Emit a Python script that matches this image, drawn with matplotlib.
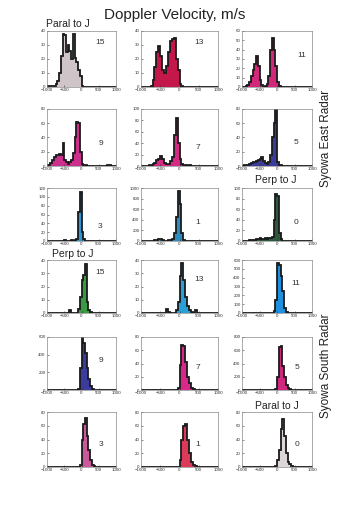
"""
Doppler velocity histograms, Syowa East / South radars
bins of 50 m/s from -1000 to 1000
sortie : out.png
"""

import numpy as np
import matplotlib.pyplot as plt

plt.rcParams["font.family"] = ["Liberation Sans", "DejaVu Sans"]

edges = np.arange(-1000, 1001, 50)


def counts(d):
    # d : {bin index: count}, index 0 = bin -1000..-950
    c = np.zeros(40)
    for k, v in d.items():
        c[k] = v
    return c


# --- Syowa East Radar ---
east_15 = counts({0: 1, 1: 1, 2: 1, 3: 1, 4: 1, 5: 2, 6: 4, 7: 10, 8: 22, 9: 38, 10: 37, 11: 25,
                  12: 30, 13: 26, 14: 20, 15: 38, 16: 21, 17: 18, 18: 12, 19: 8, 20: 1})
east_13 = counts({5: 1, 6: 5, 7: 14, 8: 25, 9: 29, 10: 22, 11: 12, 12: 10, 13: 15, 14: 25,
                  15: 33, 16: 34, 17: 35, 18: 20, 19: 12, 20: 2, 21: 1})
east_11 = counts({2: 1, 3: 2, 4: 5, 5: 12, 6: 18, 7: 25, 8: 33, 9: 22, 10: 8, 11: 2, 13: 1,
                  14: 3, 15: 12, 16: 40, 17: 53, 18: 40, 19: 22, 20: 5, 21: 1})
east_9 = counts({0: 1, 1: 2, 2: 4, 3: 8, 4: 12, 5: 15, 6: 16, 7: 17, 8: 15, 9: 32, 10: 8, 11: 5,
                 12: 3, 13: 5, 14: 8, 15: 18, 16: 40, 17: 62, 18: 60, 19: 20, 20: 3, 21: 1,
                 22: 1, 35: 2, 36: 1})
east_7 = counts({4: 1, 5: 2, 6: 3, 7: 6, 8: 10, 9: 13, 10: 17, 11: 12, 12: 6, 13: 4, 14: 4,
                 15: 8, 16: 15, 17: 55, 18: 85, 19: 40, 20: 12, 21: 3, 22: 1, 23: 1, 25: 1})
east_5 = counts({1: 1, 2: 1, 3: 2, 4: 3, 5: 4, 6: 5, 7: 6, 8: 7, 9: 8, 10: 10, 11: 12, 12: 7,
                 13: 4, 14: 3, 15: 5, 16: 15, 17: 40, 18: 60, 19: 82, 20: 5, 21: 2, 22: 1})
east_3 = counts({4: 1, 6: 1, 8: 1, 10: 2, 12: 1, 14: 2, 16: 3, 17: 5, 18: 65, 19: 110,
                 20: 20, 21: 5, 22: 1})
east_1 = counts({7: 10, 8: 20, 9: 40, 10: 30, 11: 15, 12: 5, 13: 8, 14: 10, 15: 15, 16: 30,
                 17: 150, 18: 450, 19: 950, 20: 700, 21: 150, 22: 20, 23: 5})
east_0 = counts({4: 1, 5: 1, 6: 2, 7: 2, 8: 3, 9: 3, 10: 5, 11: 3, 12: 4, 13: 5, 14: 4, 15: 5,
                 16: 6, 17: 8, 18: 40, 19: 88, 20: 85, 21: 15, 22: 3})

# --- Syowa South Radar ---
south_15 = counts({13: 2, 18: 3, 19: 12, 20: 25, 21: 29, 22: 37, 23: 8, 24: 2, 25: 1})
south_13 = counts({13: 3, 14: 1, 18: 2, 19: 8, 20: 28, 21: 38, 22: 25, 23: 12, 24: 5, 25: 2,
                   26: 1, 28: 2})
south_11 = counts({17: 3, 18: 20, 19: 150, 20: 570, 21: 540, 22: 420, 23: 250, 24: 60,
                   25: 15, 26: 5})
south_9 = counts({18: 10, 19: 250, 20: 600, 21: 530, 22: 420, 23: 250, 24: 120, 25: 50,
                  26: 15, 27: 5})
south_7 = counts({19: 3, 20: 38, 21: 68, 22: 67, 23: 42, 24: 20, 25: 10, 26: 3, 27: 1})
south_5 = counts({19: 10, 20: 200, 21: 650, 22: 660, 23: 360, 24: 200, 25: 80, 26: 25, 27: 8})
south_3 = counts({19: 3, 20: 40, 21: 62, 22: 72, 23: 45, 24: 25, 25: 10, 26: 3, 27: 1})
south_1 = counts({20: 10, 21: 40, 22: 60, 23: 63, 24: 40, 25: 20, 26: 8, 27: 3, 28: 1})
south_0 = counts({19: 2, 20: 10, 21: 25, 22: 55, 23: 70, 24: 45, 25: 20, 26: 8, 27: 5, 28: 2})

panel_data = [east_15, east_13, east_11, east_9, east_7, east_5, east_3, east_1, east_0,
              south_15, south_13, south_11, south_9, south_7, south_5, south_3, south_1, south_0]
panel_labels = ["15", "13", "11", "9", "7", "5", "3", "1", "0",
                "15", "13", "11", "9", "7", "5", "3", "1", "0"]
panel_ymax = [40, 40, 60, 80, 100, 80, 120, 1000, 100,
              40, 40, 600, 600, 80, 800, 80, 80, 80]
panel_ystep = [10, 10, 10, 20, 20, 20, 20, 200, 20,
               10, 10, 100, 200, 20, 200, 20, 20, 20]
panel_colors = ["#cfc5c8", "#c4184a", "#d2287a", "#cc2f8c", "#d42a86", "#3a3c9c",
                "#2a98d6", "#2a8cc0", "#2c5a3e",
                "#3a9a44", "#2aa0d8", "#1e90e0", "#3c3c9e", "#d8288a", "#d0277f",
                "#c85a9c", "#dc3a5a", "#dcd6d8"]
# position du numéro dans chaque panneau (coord. axes)
label_pos = [(0.77, 0.79), (0.76, 0.79), (0.85, 0.57), (0.78, 0.40), (0.74, 0.33), (0.77, 0.42),
             (0.77, 0.27), (0.74, 0.34), (0.77, 0.34), (0.77, 0.77), (0.76, 0.64), (0.77, 0.55),
             (0.78, 0.55), (0.74, 0.42), (0.78, 0.42), (0.78, 0.40), (0.74, 0.40), (0.78, 0.40)]

W, H = 349, 515
fig = plt.figure(figsize=(W / 100, H / 100), dpi=100, facecolor="white")

col_left = [47, 141, 242]
col_w = [69, 77, 70]
row_top = [31, 109, 188, 260, 337, 412]
row_h = [56, 57, 53, 53, 53, 55]

for i, c in enumerate(panel_data):
    r, k = divmod(i, 3)
    ax = fig.add_axes([col_left[k] / W, 1 - (row_top[r] + row_h[r]) / H,
                       col_w[k] / W, row_h[r] / H])
    ax.stairs(c, edges, fill=True, color=panel_colors[i])
    ax.stairs(c, edges, color="#1a1a1a", linewidth=1.3)
    ax.set_xlim(-1000, 1000)
    ax.set_ylim(0, panel_ymax[i])
    ax.set_xticks([-1000, -500, 0, 500, 1000])
    ax.set_yticks(np.arange(0, panel_ymax[i] + 1, panel_ystep[i]))
    ax.tick_params(labelsize=3.2, length=1.2, width=0.4, pad=1, direction="in", colors="#333333")
    for s in ax.spines.values():
        s.set_linewidth(0.5)
        s.set_color("#888888")
    lx, ly = label_pos[i]
    ax.text(lx, ly, panel_labels[i], transform=ax.transAxes, fontsize=6,
            ha="center", va="center", color="#333333")

fig.text(175 / W, 1 - 15 / H, "Doppler Velocity, m/s", fontsize=11,
         ha="center", va="center", color="#222222")
fig.text(46 / W, 1 - 24 / H, "Paral to J", fontsize=7.5, ha="left", va="center", color="#222222")
fig.text(255 / W, 1 - 180 / H, "Perp to J", fontsize=7.5, ha="left", va="center", color="#222222")
fig.text(52 / W, 1 - 254 / H, "Perp to J", fontsize=7.5, ha="left", va="center", color="#222222")
fig.text(255 / W, 1 - 406 / H, "Paral to J", fontsize=7.5, ha="left", va="center", color="#222222")
fig.text(326 / W, 1 - 138 / H, "Syowa East Radar", fontsize=8.5, rotation=90,
         ha="center", va="center", color="#222222")
fig.text(326 / W, 1 - 366 / H, "Syowa South Radar", fontsize=8.5, rotation=90,
         ha="center", va="center", color="#222222")

fig.savefig("out.png", dpi=100, facecolor="white")
